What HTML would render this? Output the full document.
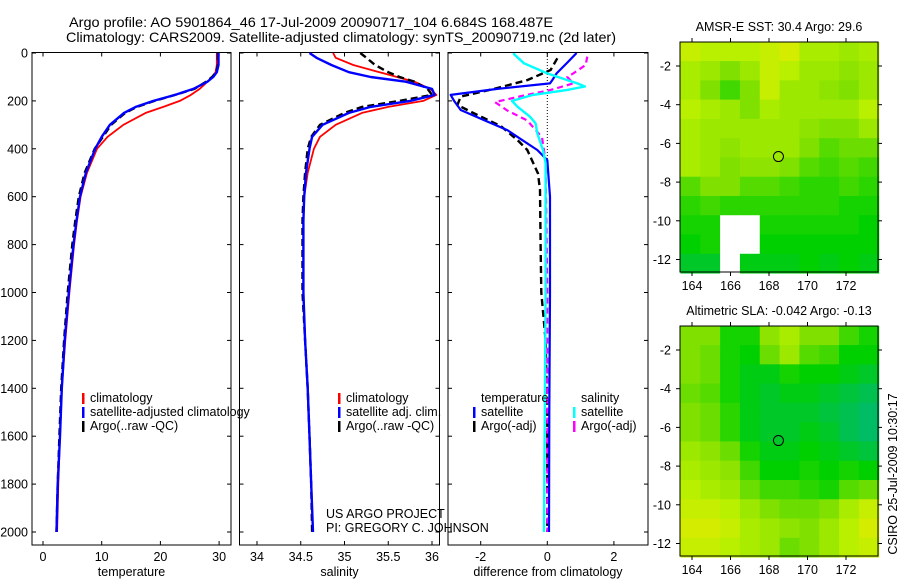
<!DOCTYPE html>
<html><head><meta charset="utf-8"><style>
html,body{margin:0;padding:0;background:#fff;}
svg{display:block;font-family:"Liberation Sans",sans-serif;}
</style></head><body>
<svg id="fig" width="900" height="580" viewBox="0 0 900 580" xmlns="http://www.w3.org/2000/svg">
<defs>
<clipPath id="c1"><rect x="32" y="52.5" width="199" height="492.5"/></clipPath>
<clipPath id="c2"><rect x="239.5" y="52.5" width="200" height="492.5"/></clipPath>
<clipPath id="c3"><rect x="448" y="52.5" width="200" height="492.5"/></clipPath>
</defs>
<text x="69" y="27" font-size="14" textLength="484" lengthAdjust="spacingAndGlyphs">Argo profile: AO 5901864_46 17-Jul-2009 20090717_104 6.684S 168.487E</text>
<text x="66" y="42" font-size="14" textLength="550" lengthAdjust="spacingAndGlyphs">Climatology: CARS2009. Satellite-adjusted climatology: synTS_20090719.nc (2d later)</text>
<g id="g1"></g>
<g id="g2"></g>
<g id="g3"></g>
<g id="m1"></g>
<g id="m2"></g>
<text x="326" y="518" font-size="12.5">US ARGO PROJECT</text>
<text x="326" y="532" font-size="12.5">PI: GREGORY C. JOHNSON</text>
<text transform="translate(897,474) rotate(-90)" font-size="12.5" text-anchor="middle">CSIRO 25-Jul-2009 10:30:17</text>
</svg>
<script>
// ---- data ----
const depths = [0,20,50,80,100,120,150,175,200,225,250,300,350,400,500,600,700,800,1000,1200,1400,1600,1800,2000];
const tempClim = [29.6,29.6,29.6,29.4,28.8,28.0,26.7,25.2,23.3,20.5,17.5,13.7,11.0,9.2,7.5,6.4,5.8,5.3,4.5,3.8,3.2,2.9,2.6,2.4];
const tempSat = [29.9,29.9,29.9,29.6,29.0,28.0,25.6,22.5,18.8,15.8,13.8,11.4,10.0,8.9,7.3,6.3,5.7,5.2,4.4,3.7,3.2,2.9,2.5,2.3];
const tempArgo = [29.8,29.8,29.8,29.5,28.8,27.8,25.8,22.5,19.0,16.0,14.0,11.6,10.2,8.8,7.1,6.1,5.5,5.0,4.2,3.6,3.1,2.8,2.5,2.3];
const salClim = [34.87,34.9,35.1,35.4,35.6,35.8,35.98,36.05,35.9,35.5,35.2,34.9,34.72,34.65,34.58,34.54,34.53,34.53,34.53,34.55,34.58,34.6,34.62,34.64];
const salSat = [34.6,34.68,34.85,35.05,35.3,35.7,36.0,36.03,35.75,35.3,35.05,34.75,34.63,34.6,34.56,34.54,34.53,34.53,34.53,34.55,34.58,34.6,34.62,34.64];
const salArgo = [35.18,35.25,35.35,35.5,35.63,35.8,35.95,36.0,35.63,35.2,35.0,34.72,34.62,34.58,34.55,34.53,34.52,34.52,34.52,34.55,34.58,34.6,34.62,34.63];
const dTSatDepth = [0,40,85,113,127,150,175,200,238,280,322,363,405,447,600,1000,1500,2000];
const dTSat = [0.88,0.6,0.28,0.15,0.08,-1.5,-2.9,-2.8,-2.6,-1.9,-1.2,-0.76,-0.3,0,0.08,0.08,0.06,0.05];
const dTArgoDepth = [22,71,113,150,182,217,259,305,363,405,503,572,800,1000,1200,1500,2000];
const dTArgo = [0.3,0.1,-0.6,-1.6,-2.6,-2.7,-2.1,-1.4,-0.9,-0.6,-0.28,-0.22,-0.2,-0.18,-0.05,0,0];
const dSSatDepth = [0,5,43,85,113,127,140,154,175,200,224,266,294,335,405,460,1000,2000];
const dSSat = [-1.0,-1.0,-0.7,0,0.6,0.9,1.13,0.6,-0.43,-1.06,-0.9,-0.52,-0.35,-0.3,-0.13,-0.05,-0.05,-0.1];
const dSArgoDepth = [15,50,85,100,127,155,178,205,240,282,352,450,1000,2000];
const dSArgo = [1.2,1.15,0.78,0.6,0.78,0.08,-0.72,-1.57,-1.2,-0.6,-0.16,-0.05,0,0];
const depthTicks = [0,200,400,600,800,1000,1200,1400,1600,1800,2000];
const tempTicks = [0,10,20,30];
const salTicks = [34,34.5,35,35.5,36];
const diffTicks = [-2,0,2];
const lonTicks = [164,166,168,170,172];
const latTicks = [-2,-4,-6,-8,-10,-12];
const sstGrid = [
[0.85,0.8,0.8,0.8,0.85,0.9,0.75,0.75,0.7,0.75],
[0.75,0.7,0.6,0.7,0.85,0.8,0.7,0.7,0.65,0.7],
[0.75,0.6,0.45,0.6,0.85,0.7,0.7,0.65,0.6,0.7],
[0.8,0.75,0.7,0.6,0.75,0.7,0.7,0.7,0.7,0.8],
[0.75,0.7,0.7,0.7,0.7,0.7,0.65,0.6,0.6,0.7],
[0.75,0.7,0.65,0.7,0.7,0.7,0.6,0.5,0.55,0.55],
[0.75,0.7,0.6,0.65,0.65,0.6,0.5,0.45,0.5,0.45],
[0.5,0.6,0.6,0.5,0.5,0.45,0.4,0.4,0.45,0.4],
[0.4,0.45,0.4,0.4,0.4,0.4,0.4,0.4,0.35,0.35],
[0.35,0.35,-1,-1,0.35,0.35,0.35,0.35,0.35,0.3],
[0.3,0.35,-1,-1,0.3,0.3,0.3,0.3,0.3,0.3],
[0.2,0.2,-1,0.25,0.25,0.25,0.3,0.25,0.3,0.25]];
const slaGrid = [
[0.6,0.6,0.35,0.35,0.65,0.75,0.6,0.6,0.45,0.35],
[0.6,0.55,0.35,0.3,0.55,0.7,0.5,0.45,0.3,0.3],
[0.6,0.55,0.35,0.25,0.25,0.35,0.3,0.3,0.25,0.2],
[0.55,0.5,0.35,0.25,0.2,0.25,0.25,0.2,0.15,0.1],
[0.6,0.55,0.4,0.25,0.2,0.2,0.2,0.15,0.1,0.05],
[0.6,0.55,0.4,0.25,0.2,0.2,0.25,0.2,0.1,0.05],
[0.7,0.65,0.55,0.35,0.25,0.25,0.3,0.25,0.2,0.15],
[0.75,0.7,0.65,0.45,0.3,0.3,0.35,0.3,0.35,0.3],
[0.8,0.75,0.7,0.55,0.45,0.45,0.4,0.35,0.5,0.55],
[0.85,0.85,0.8,0.7,0.6,0.55,0.55,0.6,0.75,0.85],
[0.9,0.9,0.85,0.75,0.7,0.65,0.6,0.7,0.8,0.9],
[0.85,0.85,0.8,0.75,0.7,0.55,0.6,0.7,0.8,0.85]];
const floatLon = 168.49, floatLat = -6.68;

// ---- helpers ----
const NS = "http://www.w3.org/2000/svg";
function mk(parent, tag, attrs, text){
  const e = document.createElementNS(NS, tag);
  for (const k in attrs) e.setAttribute(k, attrs[k]);
  if (text !== undefined) e.textContent = text;
  parent.appendChild(e);
  return e;
}
const yD = d => 53 + d * 0.2395;
const xT = v => 43 + v * 5.87;
const xS = v => 257 + (v - 34) * 87.5;
const xD = v => 547.3 + v * 33.3;

function frame(g, x0, x1, xs, xticks, xfn, xlabels, xlabel, ylabels){
  const y0 = 52.5, y1 = 545;
  const f = mk(g, 'rect', {x:x0, y:y0, width:x1-x0, height:y1-y0, fill:'none', stroke:'#000', 'stroke-width':1});
  
  
  depthTicks.forEach(d => {
    const y = yD(d);
    mk(g, 'line', {x1:x0, x2:x0+4, y1:y, y2:y, stroke:'#000'});
    mk(g, 'line', {x1:x1-4, x2:x1, y1:y, y2:y, stroke:'#000'});
    if (ylabels) {
      const t = mk(g, 'text', {x:28, y:y+4.5, 'font-size':12.5, 'text-anchor':'end'}, String(d));
      
      
    }
  });
  xticks.forEach((v,i) => {
    const x = xfn(v);
    mk(g, 'line', {x1:x, x2:x, y1:y1, y2:y1-4, stroke:'#000'});
    mk(g, 'line', {x1:x, x2:x, y1:y0, y2:y0+4, stroke:'#000'});
    const t = mk(g, 'text', {x:x, y:561, 'font-size':12.5, 'text-anchor':'middle'}, xlabels[i]);
    
    
  });
  const xl = mk(g, 'text', {x:(x0+x1)/2, y:576, 'font-size':12.5, 'text-anchor':'middle'}, xlabel);
  
  
}
function line(g, dep, vals, xfn, color, dash, clip, name, w){
  const pts = vals.map((v,i) => xfn(v).toFixed(1) + ',' + yD(dep[i]).toFixed(1)).join(' ');
  const a = {points:pts, fill:'none', stroke:color, 'stroke-width':w||2.2, 'clip-path':'url(#'+clip+')', 'stroke-linejoin':'round'};
  if (dash) a['stroke-dasharray'] = dash;
  const p = mk(g, 'polyline', a);
  
  
}
function legend(g, x, y, color, text, name){
  mk(g, 'rect', {x:x, y:y-9, width:2.5, height:11, fill:color});
  const t = mk(g, 'text', {x:x+8, y:y, 'font-size':12.5}, text);
  
  
}

// ---- panel 1 ----
const g1 = document.getElementById('g1');
frame(g1, 32, 231, null, tempTicks, xT, tempTicks.map(String), 'temperature', true);
line(g1, depths, tempClim, xT, '#f00', null, 'c1', 'temp-climatology-line', 1.8);
line(g1, depths, tempArgo, xT, '#000', '7,4', 'c1', 'temp-argo-line', 2.4);
line(g1, depths, tempSat, xT, '#00f', null, 'c1', 'temp-satellite-line', 2.4);
legend(g1, 82, 402, '#f00', 'climatology', 'legend-climatology');
legend(g1, 82, 416, '#00f', 'satellite-adjusted climatology', 'legend-satellite-adjusted');
legend(g1, 82, 430, '#000', 'Argo(..raw -QC)', 'legend-argo');

// ---- panel 2 ----
const g2 = document.getElementById('g2');
frame(g2, 239.5, 439.5, null, salTicks, xS, salTicks.map(String), 'salinity', false);
line(g2, depths, salClim, xS, '#f00', null, 'c2', 'sal-climatology-line', 1.8);
line(g2, depths, salArgo, xS, '#000', '7,4', 'c2', 'sal-argo-line', 2.4);
line(g2, depths, salSat, xS, '#00f', null, 'c2', 'sal-satellite-line', 2.4);
legend(g2, 338, 402, '#f00', 'climatology', 'legend-sal-climatology');
legend(g2, 338, 416, '#00f', 'satellite adj. clim.', 'legend-sal-satellite');
legend(g2, 338, 430, '#000', 'Argo(..raw -QC)', 'legend-sal-argo');

// ---- panel 3 ----
const g3 = document.getElementById('g3');
frame(g3, 448, 648, null, diffTicks, xD, diffTicks.map(String), 'difference from climatology', false);
mk(g3, 'line', {x1:xD(0), x2:xD(0), y1:53, y2:yD(460), stroke:'#000', 'stroke-width':1, 'stroke-dasharray':'1,2'});
line(g3, dTArgoDepth, dTArgo, xD, '#000', '7,4', 'c3', 'diff-temp-argo-line', 2.4);
line(g3, dSArgoDepth, dSArgo, xD, '#f0f', '6,4', 'c3', 'diff-sal-argo-line', 2.2);
line(g3, dTSatDepth, dTSat, xD, '#00f', null, 'c3', 'diff-temp-satellite-line', 2.2);
line(g3, dSSatDepth, dSSat, xD, '#0ff', null, 'c3', 'diff-sal-satellite-line', 2.4);
const lt = mk(g3, 'text', {x:481, y:402, 'font-size':12.5}, 'temperature');


const ls = mk(g3, 'text', {x:581, y:402, 'font-size':12.5}, 'salinity');


legend(g3, 473, 416, '#00f', 'satellite', 'legend-diff-temp-satellite');
legend(g3, 473, 430, '#000', 'Argo(-adj)', 'legend-diff-temp-argo');
legend(g3, 573, 416, '#0ff', 'satellite', 'legend-diff-sal-satellite');
legend(g3, 573, 430, '#f0f', 'Argo(-adj)', 'legend-diff-sal-argo');

// ---- maps ----
function cmap(v){
  const stops = [[0,[0,184,120]],[0.3,[0,208,0]],[0.6,[128,224,0]],[0.8,[184,240,0]],[1,[240,232,0]]];
  for (let i=1;i<stops.length;i++){
    if (v <= stops[i][0]){
      const a = stops[i-1], b = stops[i], t = (v-a[0])/(b[0]-a[0]);
      const c = a[1].map((x,j)=>Math.round(x+(b[1][j]-x)*t));
      return 'rgb('+c.join(',')+')';
    }
  }
  return 'rgb(240,232,0)';
}
function map(g, top, grid, title, name){
  const x0 = 680, x1 = 878, y1 = top + 230;
  const lonX = lon => 692 + (lon - 164) * 19.25;
  const latY = lat => top + 24 + (-2 - lat) * 19.35;
  const lon0 = 163.4, lon1 = 173.7, lat0 = -0.75, lat1 = -12.7;
  const nr = grid.length, nc = grid[0].length;
  const cw = (lon1 - lon0) / nc, ch = (lat0 - lat1) / nr;
  grid.forEach((row, r) => row.forEach((v, c) => {
    const xa = lonX(lon0 + c*cw), xb = lonX(lon0 + (c+1)*cw);
    const ya = latY(lat0 - r*ch), yb = latY(lat0 - (r+1)*ch);
    const cell = mk(g, 'rect', {x:xa, y:ya, width:xb-xa+0.5, height:yb-ya+0.5, fill: v < 0 ? '#fff' : cmap(v)});
    
    
  }));
  mk(g, 'rect', {x:x0, y:latY(lat1), width:x1-x0, height:y1-latY(lat1), fill:'#fff'});
  const fr = mk(g, 'rect', {x:x0, y:top, width:x1-x0, height:y1-top, fill:'none', stroke:'#000'});
  
  
  const cv = grid[Math.floor((lat0-floatLat)/ch)][Math.floor((floatLon-lon0)/cw)];
  const dot = mk(g, 'circle', {cx:lonX(floatLon), cy:latY(floatLat), r:5, fill:cmap(Math.max(cv,0)), stroke:'#000', 'stroke-width':1});
  
  
  lonTicks.forEach(l => {
    const x = lonX(l);
    mk(g, 'line', {x1:x, x2:x, y1:y1, y2:y1+4, stroke:'#000'});
    mk(g, 'line', {x1:x, x2:x, y1:top, y2:top-4, stroke:'#000'});
    const t = mk(g, 'text', {x:x, y:y1+18, 'font-size':12.5, 'text-anchor':'middle'}, String(l));
    
    
  });
  latTicks.forEach(l => {
    const y = latY(l);
    mk(g, 'line', {x1:x0, x2:x0-4, y1:y, y2:y, stroke:'#000'});
    mk(g, 'line', {x1:x1, x2:x1+4, y1:y, y2:y, stroke:'#000'});
    const t = mk(g, 'text', {x:671, y:y+4.5, 'font-size':12.5, 'text-anchor':'end'}, String(l));
    
    
  });
  const tt = mk(g, 'text', {x:(x0+x1)/2, y:top-11, 'font-size':12.5, 'text-anchor':'middle'}, title);
  
  
}
map(document.getElementById('m1'), 42, sstGrid, 'AMSR-E SST: 30.4  Argo: 29.6', 'sst-map');
map(document.getElementById('m2'), 326, slaGrid, 'Altimetric SLA: -0.042  Argo: -0.13', 'sla-map');
</script>
</body></html>
